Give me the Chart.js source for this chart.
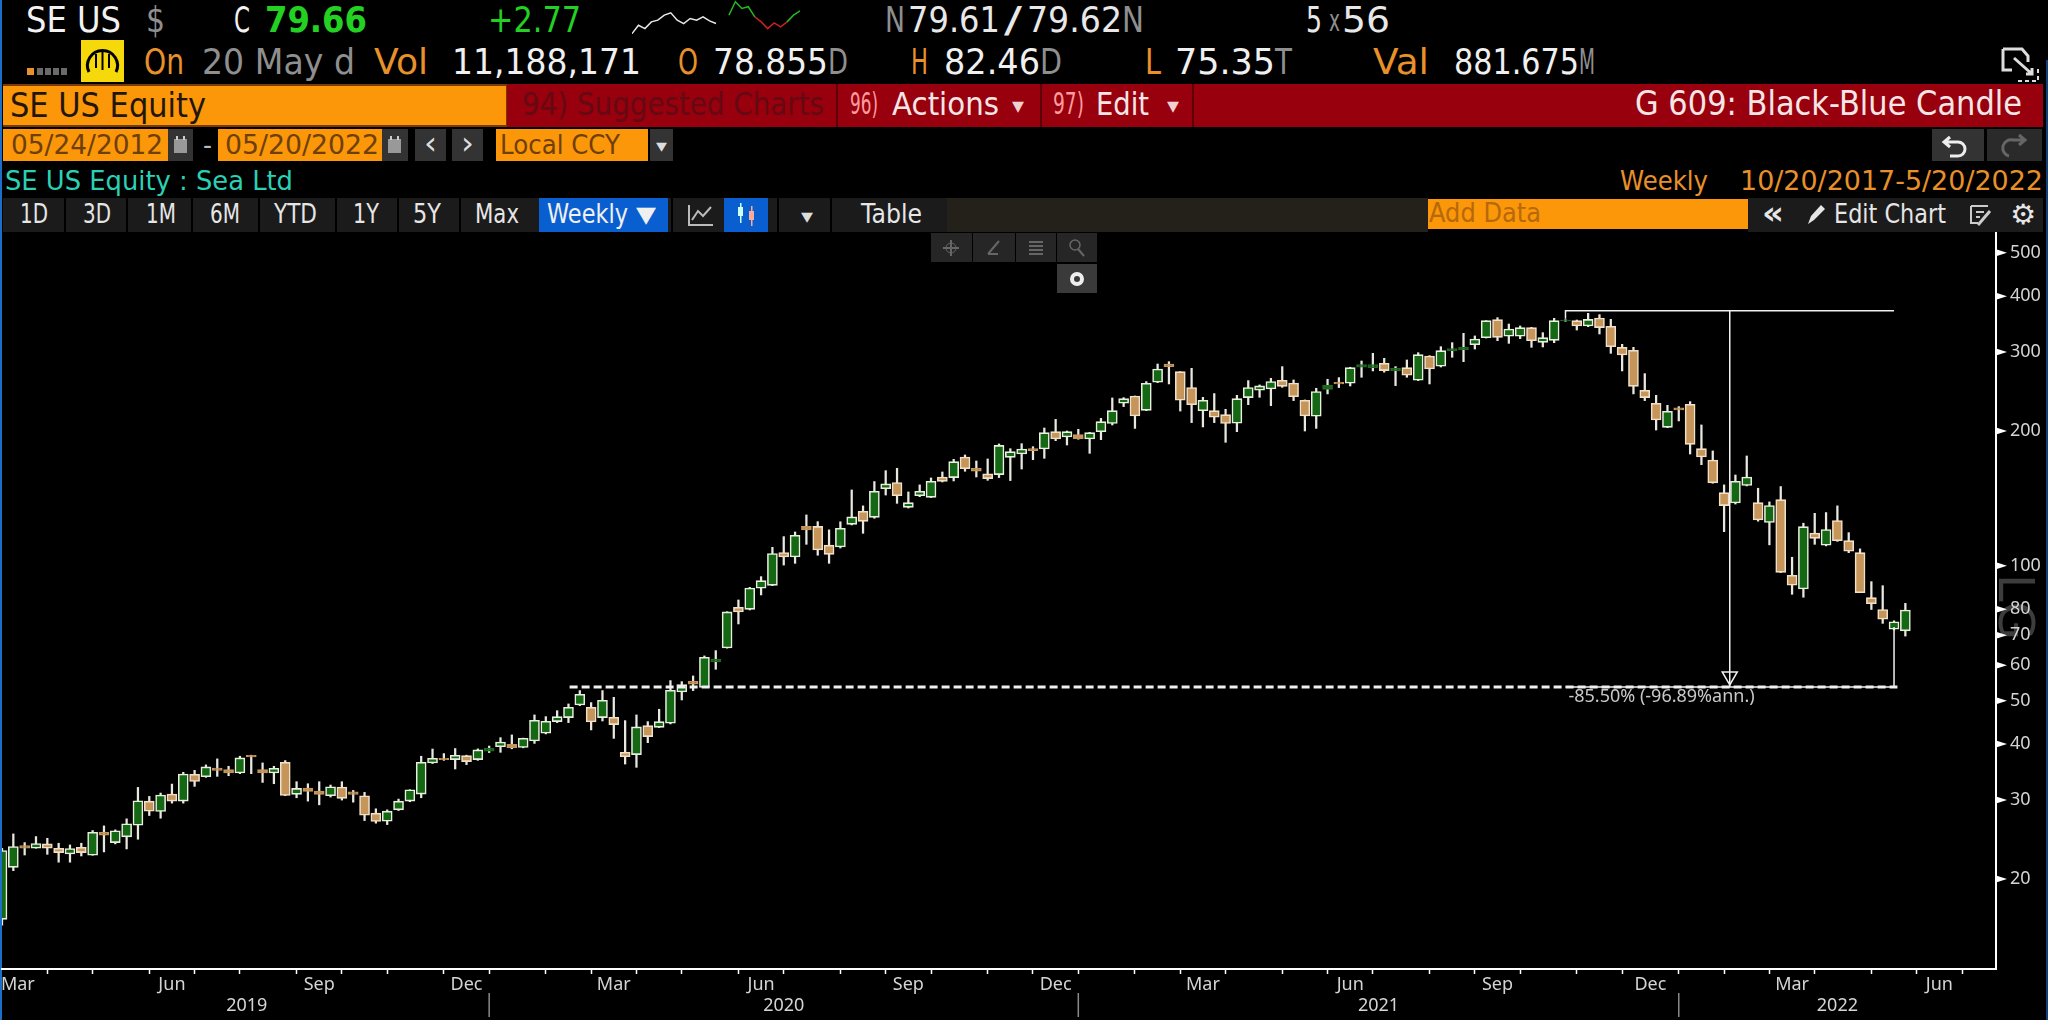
<!DOCTYPE html>
<html>
<head>
<meta charset="utf-8">
<script src="https://cdn.jsdelivr.net/npm/chart.js@4"></script>
<style>
html,body{margin:0;padding:0;background:#000;width:2048px;height:1020px;overflow:hidden}
#ui div,#ui span,#ui svg{position:absolute}
#ui span{white-space:nowrap;font-family:"DejaVu Sans",sans-serif;transform-origin:0 50%}
#chart{position:absolute;left:0;top:232px}
#spark{position:absolute;left:632px;top:0}
</style>
</head>
<body>
<div id="ui"></div>
<canvas id="chart" width="2048" height="788"></canvas>
<canvas id="spark" width="168" height="37"></canvas>
<script>
// weekly candles, 1 Mar 2019 to 20 May 2022
var opens = [
16.25,21.23,23.74,23.42,23.95,23.42,22.74,23.54,22.59,25.43,
24.11,24.83,26.36,29.84,28.29,30.94,29.84,34.24,33.83,35.38,
35.08,34.48,37.78,35.08,34.48,36.44,30.89,31.92,31.42,30.68,
32.08,31.31,30.68,28.05,26.92,28.53,29.84,30.94,36.31,37.2,
36.94,37.7,36.94,38.55,39.47,39.95,39.3,40.65,42.29,44.9,
45.83,48.9,48.33,45.83,45.91,38.35,37.9,43.98,43.6,44.52,
52.3,55.25,53.56,61.1,65.57,80.8,79.98,89.1,90.48,107.05,
104.7,122.5,122.5,111.2,110.2,123.8,132.4,128.3,148.7,153.4,
135.1,143.4,142.2,157.9,157.4,175,165.1,160.4,159.8,174.7,
177.7,182.6,182.3,199.3,194,196.3,192,199.3,207.8,230.6,
239.4,222.4,256.9,282.2,271.3,250,222,222,217.5,208.1,
237.4,246.6,248.2,259.6,256,234.2,215.7,247.8,256.9,255.6,
277.5,277,283.2,272.8,277,259.6,294.1,278.9,302.3,303.8,
311.7,323.1,354.4,325.4,325.4,340.2,315.4,318.7,352,352.6,
343.1,357.5,342.5,307.5,302.8,246.6,230.6,203.8,225.2,229.4,
182.6,172.3,145.7,138.2,151.1,138.4,125,140.5,95.3,88.8,
118.4,111.2,126.2,113.8,107,84.9,79.9,72.2,71.6];
var highs = [
23.42,25.21,24.11,24.87,24.65,24.03,23.82,24.03,25.65,26.27,
25.74,27.24,32.02,30.57,31.1,32.57,34.6,34.96,35.94,37.07,
35.69,37.58,37.78,36.31,35.69,36.75,32.97,32.63,32.97,32.41,
32.97,31.53,31.21,28.68,28.53,30.15,31.64,37.58,39,38.1,
39.1,37.78,39.03,39.6,41.35,41.93,41.25,46.47,46.07,47.5,
49.17,52.66,49.51,52.66,50.88,45.13,46.47,44.9,47.84,55.44,
55.15,56.78,62.93,64.68,79,83.91,89.55,94.6,110,116.2,
119,129.9,125.5,120.3,125.4,147.7,136.1,154.2,163.1,165.1,
146.2,151.6,157.1,162,172.9,176.8,171.4,173.2,187.1,182.6,
187.4,184.5,203.1,212.3,200,201.7,198.6,213.4,237,237.4,
239.4,257.8,282.2,285.6,271.3,276,237.8,242.4,223.6,240.2,
259.1,253.4,262.2,278.4,260,234.6,249.1,260.9,263.1,277.5,
286.6,298.1,290.6,278.4,288.1,299.1,294.6,308.5,314.9,330.4,
326,352.6,358.1,346.6,343.1,340.8,331.5,356.9,354.4,353.8,
366.2,363.7,355,312.2,307.5,268.6,240.2,228.2,226.7,232.6,
206.3,180.5,151.6,159.5,175.9,149,138.9,150.3,104.5,124.5,
131,131.5,136.1,118.6,109.1,92.2,90.3,75.4,82.46];
var lows = [
15.78,20.87,22.62,23.42,22.7,21.8,21.8,22.51,22.59,22.98,
23.95,23.34,24.53,27.71,27.33,29.53,29.53,32.19,33.72,33.89,
34,34.36,34.36,32.85,32.63,30.68,30.36,29.84,29.28,30.47,
30,29.68,27,26.64,26.45,28.43,29.74,30.36,36.2,36.8,
35.2,36,36.8,38.3,38.35,39.05,39.25,40.15,42.15,44.67,
44.67,48.75,43.02,45.05,41.2,36.1,35.5,40.3,43.55,44.37,
50.19,52.66,53.47,58.76,65.5,74.18,79.71,86.1,90.3,100.4,
101.3,111.7,105.6,101.3,109.6,123.4,118.2,127.7,143.9,137.9,
134.6,142.7,142,153.9,154.7,162.6,157.9,155.2,157.4,155,
164.5,172.6,173.8,190.3,186.1,191.7,178.3,191.3,206.3,226.7,
202.7,222,256.5,254.7,221.6,208.8,204.2,208.8,188.7,199.3,
229,237.8,227.8,250.3,233.8,200,202.7,242,250,252.1,
263.6,272.3,270.6,252.5,263.6,259.1,254.7,277.9,292.1,285.6,
304.8,322.5,318.2,313.8,321.5,307.5,308,314.9,351.5,336.1,
341.9,329.3,298.1,272.3,242,233.8,201,203.4,210.6,177.7,
168.2,152.9,119.2,137.4,150.8,125.8,111.4,96.6,86.4,85.1,
111.7,110.8,113.4,107,87.1,79.9,74.4,71.9,69.7];
var closes = [
23.14,23.62,23.42,23.99,23.42,22.9,23.38,22.9,25.43,25.04,
25.61,26.55,29.89,28.34,30.78,29.84,34.3,33.02,35.57,34.96,
34.48,37.26,37.46,34.48,35.32,30.73,31.86,31.37,30.89,32.13,
30.26,30.89,27.76,26.87,28.34,29.84,31.64,36.44,37.2,36.94,
37.78,36.56,38.83,39.2,40.43,39.2,41.2,45.2,44.98,46.07,
48.33,51.67,44.82,50.1,44.22,37.5,43.7,41.57,44.9,52.75,
54.3,54.4,62.5,61.85,78.9,78.9,89.25,92.68,106.5,104.7,
117,120.3,108.5,106.1,121.3,128.6,125.7,146.7,152.4,143.4,
138.4,146.7,154.4,154.4,170.8,164.8,162.6,156.6,185.7,179.8,
182.3,180.8,198.3,192,199.3,192.3,198.3,209.8,222,236.2,
216,255.6,275,278.4,234.2,229,234.2,214.6,207.8,236.2,
250,252.1,257.8,251.6,238.6,216,244.9,253,254.7,277,
281.2,281.2,272.8,276,266.3,296.1,275,302.3,305.4,307.5,
320.9,352.6,323.7,337.9,340.2,318.2,323.1,352.6,353.8,343.1,
355,340.2,308.5,295.6,251.6,237.4,211.6,221.3,222.8,186.7,
175,153.2,136.3,154.4,157.9,126.6,136.3,96.7,90.5,122.3,
115.2,120.5,113.8,107.8,87.1,82.3,76,75,79.66];

var yTicks = [20,30,40,50,60,70,80,100,200,300,400,500];
// last week of each month, as candle numbers
var monthEnds = [4,8,13,17,21,26,30,34,39,43,48,52,56,60,65,69,74,78,82,87,91,95,100,104,108,113,117,121,126,130,134,139,143,148,152,156,160,165,169,173];
var quarterNames = ["Mar","Jun","Sep","Dec","Mar","Jun","Sep","Dec","Mar","Jun","Sep","Dec","Mar","Jun"];
var quarterWeeks = [1.4,15,28,41,54,67,80,93,106,119,132,145.5,158,171];
var yearNames = ["2019","2020","2021","2022"];
var yearWeeks = [21.6,69,121.5,162];
var yearBreaks = [43,95,148];
var lastWeek = 176;

// measure tool
var peakPrice = 371.2, floorPrice = 53.65;
var peakWeek = 138, lowWeek = 167, midWeek = 152.5;
var dashStart = 50.1, dashEnd = 167.3;
var measureText = "-85.50% (-96.89%ann.)";

// little price line in the header
var sparkWhite = [10,35,25,45,50,65,72,50,40,55,50,60,48,40];
var sparkGreenA = [65,105,85,90,60];
var sparkRed = [60,45,25,42,30,45];
var sparkGreenB = [45,65,78];

var ui = document.getElementById('ui');
function box(x1,y1,x2,y2,c){
  var d = document.createElement('div');
  d.style.cssText = 'left:'+x1+'px;top:'+y1+'px;width:'+(x2-x1)+'px;height:'+(y2-y1)+'px;background:'+c;
  ui.appendChild(d);
  return d;
}
function txt(s,x1,x2,yc,size,c,weight){
  var e = document.createElement('span');
  e.textContent = s;
  e.style.cssText = 'left:'+x1+'px;top:'+(yc-size*0.6)+'px;font-size:'+size+'px;line-height:'+(size*1.2)+'px;color:'+c+';font-weight:'+(weight||400);
  ui.appendChild(e);
  e.style.transform = 'scaleX('+((x2-x1)/e.getBoundingClientRect().width)+')';
}
function svg(x,y,w,h,inner){
  var d = document.createElement('div');
  d.style.cssText = 'left:'+x+'px;top:'+y+'px;width:'+w+'px;height:'+h+'px';
  d.innerHTML = '<svg style="left:0;top:0" width="'+w+'" height="'+h+'" viewBox="0 0 '+w+' '+h+'">'+inner+'</svg>';
  ui.appendChild(d);
}

var orange='#fb9708', tOrange='#e8902a', grey='#8f8f8f', green='#22d122', dim='#6e3f08';

// blue window edges
box(0,0,2,1020,'#1b6fc8');
box(2046,60,2048,1020,'#12407a');

// quote rows
txt('SE US',26,121,20,36,'#f2f2f2');
txt('$',146,165,20,36,grey);
txt('C',234,250,20,36,'#f2f2f2');
txt('79.66',265,367,20,36,green,700);
txt('+2.77',488,581,20,36,green);
txt('N',885,905,20,36,grey);
txt('79.61',908,1000,20,36,'#e8e8e8');
txt('/',1004,1022,20,36,'#e8e8e8');
txt('79.62',1027,1122,20,36,'#e8e8e8');
txt('N',1122,1144,20,36,grey);
txt('5',1306,1322,20,36,'#e8e8e8');
txt('x',1329,1340,21,30,grey);
txt('56',1342,1390,20,36,'#e8e8e8');

box(27,68,34,75,'#e8902a');
[37,45,53,61].forEach(function(x){ box(x,68,x+6,75,'#6a6a6a'); });
box(81,40,124,82,'#f5d90a');
svg(81,40,43,42,'<path d="M8 32 A15 15 0 1 1 35 32" fill="none" stroke="#000" stroke-width="3"/><path d="M21.5 12V30M15 14V28M28 14V28" stroke="#000" stroke-width="2"/>');
txt('On',144,184,62,36,tOrange);
txt('20 May d',202,355,62,36,grey);
txt('Vol',374,428,62,36,tOrange);
txt('11,188,171',452,641,62,36,'#f0f0f0');
txt('O',678,698,62,36,tOrange);
txt('78.855',713,828,62,36,'#f0f0f0');
txt('D',828,848,62,36,grey);
txt('H',911,928,62,36,tOrange);
txt('82.46',944,1040,62,36,'#f0f0f0');
txt('D',1040,1062,62,36,grey);
txt('L',1145,1161,62,36,tOrange);
txt('75.35',1175,1275,62,36,'#f0f0f0');
txt('T',1275,1292,62,36,grey);
txt('Val',1373,1429,62,36,tOrange);
txt('881.675',1454,1579,62,36,'#f0f0f0');
txt('M',1579,1595,62,36,grey);
svg(2000,46,42,38,'<path d="M3 3H22L28 10V16M3 3V24H12" fill="none" stroke="#ddd" stroke-width="3"/><path d="M14 12L32 28M26 28H32V22" fill="none" stroke="#ddd" stroke-width="3"/><path d="M18 35H38V20" fill="none" stroke="#ddd" stroke-width="2" stroke-dasharray="4 3"/>');

// red command bar
box(507,84,2043,127,'#98000e');
box(836,84,838,127,'#5c0008');
box(1040,84,1042,127,'#5c0008');
box(1192,84,1194,127,'#5c0008');
box(3,84,507,127,'#7a3a00');
box(3,86,506,125,orange);
txt('SE US Equity',10,206,105,34,'#22150a');
txt('94) Suggested Charts',522,824,104,32,'#650912');
txt('96)',850,878,104,30,'#ff9c9c');
txt('Actions',892,999,104,32,'#f5e6e6');
txt('▾',1012,1024,106,22,'#f0d0d0');
txt('97)',1053,1084,104,30,'#ff9c9c');
txt('Edit',1096,1149,104,32,'#f5e6e6');
txt('▾',1167,1179,106,22,'#f0d0d0');
txt('G 609: Black-Blue Candle',1635,2022,104,33,'#f5e6e6');

// date row
box(3,129,168,161,orange);
txt('05/24/2012',11,163,145,27,dim);
box(168,129,193,161,'#333');
box(218,129,382,161,orange);
txt('05/20/2022',225,379,145,27,dim);
box(382,129,408,161,'#333');
[172,386].forEach(function(x){ svg(x,134,17,22,'<rect x="2" y="5" width="13" height="14" fill="#999"/><rect x="4" y="2" width="2" height="4" fill="#ccc"/><rect x="11" y="2" width="2" height="4" fill="#ccc"/>'); });
txt('-',203,212,145,27,'#bbb');
box(415,129,446,161,'#333');
box(452,129,483,161,'#333');
txt('‹',424,437,143,32,'#ddd');
txt('›',461,474,143,32,'#ddd');
box(496,129,648,161,orange);
txt('Local CCY',500,620,145,27,dim);
box(650,129,673,161,'#333');
txt('▾',656,667,146,18,'#ddd');
box(1932,129,1984,161,'#333');
box(1987,129,2042,161,'#2a2a2a');
svg(1932,129,52,32,'<path d="M18 8L12 13L18 18M12 13H26A7 7 0 0 1 26 27H18" fill="none" stroke="#eee" stroke-width="3"/>');
svg(1987,129,55,32,'<path d="M32 6L38 11L32 16M38 11H26A7 7 0 0 0 22 27" fill="none" stroke="#666" stroke-width="3"/>');

// title row
txt('SE US Equity : Sea Ltd',5,293,181,27,'#2ad1b4');
txt('Weekly',1620,1708,181,27,tOrange);
txt('10/20/2017-5/20/2022',1740,2043,181,27,tOrange);

// toolbar
box(3,198,947,232,'#1b1b1b');
box(947,198,1428,232,'#24211b');
box(1748,198,2043,232,'#1b1b1b');
[[64],[126],[191],[258],[335],[397],[459],[671],[777],[830]].forEach(function(a){ box(a[0],198,a[0]+2,232,'#000'); });
[['1D',20,48],['3D',83,111],['1M',146,176],['6M',210,240],['YTD',274,317],['1Y',353,379],['5Y',413,441],['Max',475,519]].forEach(function(a){
  txt(a[0],a[1],a[2],215,26,'#e6e6e6');
});
box(539,198,668,232,'#0a5fd0');
txt('Weekly',547,628,215,26,'#f0f0f0');
txt('▼',636,656,215,22,'#f0f0f0');
box(724,198,768,232,'#0a5fd0');
svg(686,202,30,26,'<path d="M3 3V23H27" fill="none" stroke="#bbb" stroke-width="2"/><path d="M6 18L12 9L17 14L25 5" fill="none" stroke="#bbb" stroke-width="2"/>');
svg(734,202,24,26,'<rect x="4" y="5" width="5" height="9" fill="#cfe"/><rect x="6" y="1" width="1.5" height="20" fill="#cfe"/><rect x="15" y="9" width="5" height="9" fill="#fa9"/><rect x="17" y="4" width="1.5" height="20" fill="#fa9"/>');
txt('▾',801,813,216,20,'#ddd');
txt('Table',861,922,215,26,'#e6e6e6');
box(1428,199,1748,229,orange);
txt('Add Data',1429,1541,214,26,'#b5690a');
txt('«',1762,1784,213,32,'#e6e6e6',700);
svg(1804,202,22,26,'<path d="M4 22L7 14L17 3L21 7L10 18Z" fill="#e6e6e6"/>');
txt('Edit Chart',1834,1946,215,26,'#e6e6e6');
svg(1968,203,24,24,'<path d="M3 3H20M3 3V20H10M8 9H16M8 14H12" fill="none" stroke="#ccc" stroke-width="2"/><path d="M10 22L22 8" stroke="#ccc" stroke-width="3"/>');
txt('⚙',2010,2036,215,28,'#e6e6e6');

// floating drawing tools
box(931,233,972,262,'#262626');
box(973,233,1015,262,'#262626');
box(1016,233,1056,262,'#262626');
box(1057,233,1097,262,'#262626');
box(1057,264,1097,293,'#3a3a3a');
svg(931,233,41,29,'<path d="M20 7V23M12 15H28" stroke="#666" stroke-width="2"/><circle cx="20" cy="15" r="5" fill="none" stroke="#666"/>');
svg(973,233,42,29,'<path d="M15 21L26 8M15 21H25" fill="none" stroke="#666" stroke-width="2"/>');
svg(1016,233,40,29,'<path d="M13 9H27M13 13H27M13 17H27M13 21H27" stroke="#666" stroke-width="2"/>');
svg(1057,233,40,29,'<circle cx="18" cy="12" r="5" fill="none" stroke="#666" stroke-width="1.5"/><path d="M21 16L27 23" stroke="#666" stroke-width="2"/>');
svg(1057,264,40,29,'<circle cx="20" cy="15" r="5" fill="none" stroke="#eee" stroke-width="4"/>');

// faint watermark behind the price labels
var wm = document.createElement('span');
wm.textContent = 'LG';
wm.style.cssText = 'left:1983px;top:582px;font-size:50px;line-height:50px;color:#3d3d3d;transform:rotate(90deg);transform-origin:50% 50%';
ui.appendChild(wm);

// the candles
var weeks = opens.map(function(v,i){ return i; });
var bodyData = weeks.map(function(i){ return {x:i, y:[opens[i],closes[i]]}; });
var wickData = weeks.map(function(i){ return {x:i, y:[lows[i],highs[i]]}; });

function isUp(i){ return closes[i] >= opens[i]; }
function isThin(i){ return Math.abs(Math.log(opens[i]/closes[i])) < 0.021; }

var axisExtras = {
  id:'axisExtras',
  afterDraw:function(chart){
    var c = chart.ctx, x = chart.scales.x, y = chart.scales.y, a = chart.chartArea;
    c.save();
    // arrow head on each price tick
    c.fillStyle = '#fff';
    yTicks.forEach(function(v){
      var py = y.getPixelForValue(v);
      c.beginPath();
      c.moveTo(a.right,py-3.5);
      c.lineTo(a.right+11,py);
      c.lineTo(a.right,py+3.5);
      c.fill();
    });
    // year separators under the axis
    c.strokeStyle = '#8a8a8a';
    c.lineWidth = 1.5;
    yearBreaks.forEach(function(w){
      var px = x.getPixelForValue(w);
      c.beginPath();
      c.moveTo(px,a.bottom+24);
      c.lineTo(px,a.bottom+48);
      c.stroke();
    });
    c.fillStyle = '#c8c8c8';
    c.font = '18px "Noto Sans"';
    c.textBaseline = 'middle';
    c.fillText(measureText, x.getPixelForValue(peakWeek)+3, y.getPixelForValue(floorPrice)+10);
    c.restore();
  }
};

function measureLine(points,width,dash){
  return {type:'line', data:points, borderColor:'#f0f0f0', borderWidth:width, borderDash:dash||[], pointRadius:0, order:0};
}

new Chart(document.getElementById('chart').getContext('2d'),{
  type:'bar',
  data:{
    datasets:[
      measureLine([{x:dashStart,y:floorPrice},{x:dashEnd,y:floorPrice}],3,[8,4]),
      measureLine([{x:peakWeek,y:floorPrice},{x:lowWeek,y:floorPrice}],1.5),
      measureLine([{x:peakWeek,y:356},{x:peakWeek,y:peakPrice},{x:lowWeek,y:peakPrice}],1.5),
      measureLine([{x:midWeek,y:peakPrice},{x:midWeek,y:floorPrice}],1.5),
      measureLine([{x:lowWeek,y:73},{x:lowWeek,y:floorPrice}],1.5),
      {type:'scatter', data:[{x:midWeek,y:56.7}], pointStyle:'triangle', rotation:180, pointRadius:8.7,
       borderColor:'#f0f0f0', borderWidth:1.5, backgroundColor:'#000', showLine:false, order:0},
      {label:'body', data:bodyData, grouped:false, barThickness:10, borderWidth:1.6, borderSkipped:false, order:1,
       backgroundColor:function(ctx){ return isUp(ctx.dataIndex) ? '#146814' : '#c6955a'; },
       borderColor:function(ctx){
         var i = ctx.dataIndex;
         if(isThin(i)) return isUp(i) ? '#1f6a1f' : '#c6955a';
         return isUp(i) ? '#e9efdf' : '#f1e0c8';
       }},
      {label:'wick', data:wickData, grouped:false, barThickness:1.6, backgroundColor:'#e8e8e0', order:2}
    ]
  },
  plugins:[axisExtras],
  options:{
    responsive:false,
    animation:false,
    devicePixelRatio:1,
    layout:{autoPadding:false, padding:{left:2,top:0,right:0,bottom:0}},
    plugins:{legend:{display:false},tooltip:{enabled:false}},
    scales:{
      x:{
        type:'linear', position:'bottom', min:0, max:lastWeek, bounds:'data', offset:false,
        border:{color:'#fff',width:2},
        grid:{drawOnChartArea:false, offset:false, tickLength:5, tickWidth:1.5,
          tickColor:function(ctx){ return ctx.tick && monthEnds.indexOf(ctx.tick.value) >= 0 ? '#fff' : 'rgba(0,0,0,0)'; }},
        ticks:{autoSkip:false, maxRotation:0, minRotation:0, padding:0, color:'#d4d4d4',
          font:{family:'"Noto Sans"',size:18},
          callback:function(v){ var k = quarterWeeks.indexOf(v); return k >= 0 ? quarterNames[k] : ''; }},
        afterBuildTicks:function(s){
          s.ticks = monthEnds.concat(quarterWeeks).map(function(v){ return {value:v}; });
        },
        afterFit:function(s){ s.height = 25; s.paddingLeft = 0; s.paddingRight = 0; }
      },
      xYears:{
        type:'linear', position:'bottom', min:0, max:lastWeek, bounds:'data', offset:false,
        border:{display:false},
        grid:{display:false, drawTicks:false},
        ticks:{autoSkip:false, maxRotation:0, minRotation:0, padding:1, color:'#d4d4d4',
          font:{family:'"Noto Sans"',size:18},
          callback:function(v){ var k = yearWeeks.indexOf(v); return k >= 0 ? yearNames[k] : ''; }},
        afterBuildTicks:function(s){
          s.ticks = yearWeeks.map(function(v){ return {value:v}; });
        },
        afterFit:function(s){ s.height = 26; s.paddingLeft = 0; s.paddingRight = 0; }
      },
      y:{
        type:'logarithmic', position:'right', min:12.59, max:556.2, bounds:'data',
        border:{color:'#fff',width:2},
        grid:{drawOnChartArea:false, tickLength:12, tickColor:'rgba(0,0,0,0)'},
        ticks:{autoSkip:false, padding:2, color:'#d4d4d4',
          font:{family:'"Noto Sans"',size:18},
          callback:function(v){ return String(v); }},
        afterBuildTicks:function(s){
          s.ticks = yTicks.map(function(v){ return {value:v}; });
        },
        afterFit:function(s){ s.width = 52; s.paddingTop = 0; s.paddingBottom = 0; }
      }
    }
  }
});

// header sparkline
function pad(arr,start,len){
  var out = [];
  for(var i = 0; i < len; i++){
    out.push(i >= start && i < start+arr.length ? arr[i-start] : null);
  }
  return out;
}
var sparkLen = 27;
var sparkLabels = pad([],0,sparkLen).map(function(v,i){ return i; });
function sparkSet(arr,start,color){
  return {data:pad(arr,start,sparkLen), borderColor:color, borderWidth:1.5, pointRadius:0, tension:0};
}
new Chart(document.getElementById('spark').getContext('2d'),{
  type:'line',
  data:{
    labels:sparkLabels,
    datasets:[
      sparkSet(sparkWhite,0,'#e8e8e8'),
      sparkSet(sparkGreenA,15,'#22b822'),
      sparkSet(sparkRed,19,'#c82020'),
      sparkSet(sparkGreenB,24,'#22b822')
    ]
  },
  options:{
    responsive:false,
    animation:false,
    devicePixelRatio:1,
    layout:{autoPadding:false},
    plugins:{legend:{display:false},tooltip:{enabled:false}},
    scales:{x:{display:false},y:{display:false,min:0,max:110}}
  }
});
</script>
</body>
</html>
